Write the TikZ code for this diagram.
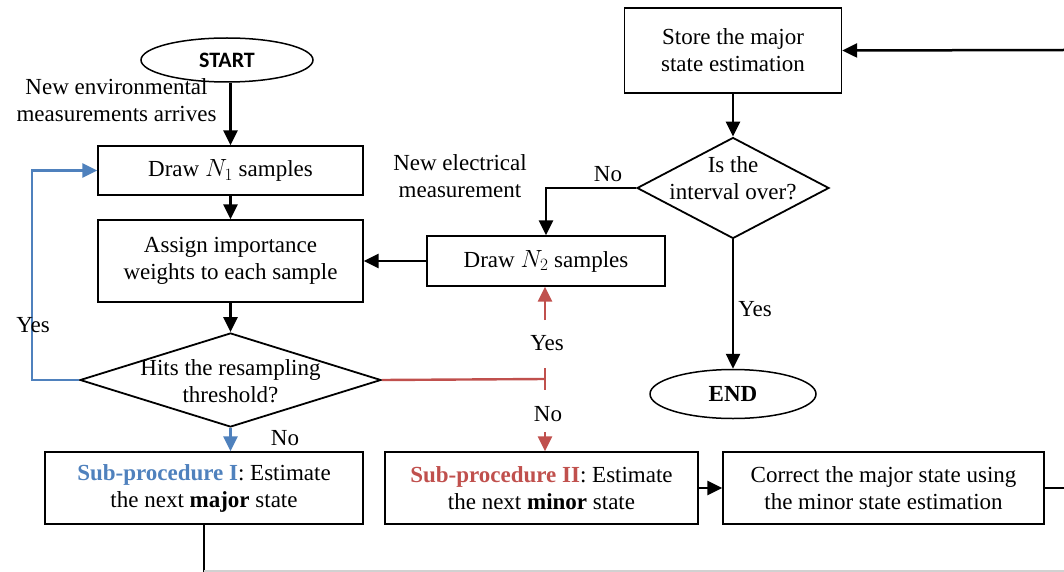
\documentclass[tikz,border=0pt]{standalone}
\usepackage{fontspec}
\setmainfont{Liberation Serif}
\newfontfamily\startfont{Carlito}
\usetikzlibrary{shapes.geometric,arrows.meta}
\definecolor{procblue}{RGB}{79,129,189}
\definecolor{procred}{RGB}{192,80,77}
\tikzset{
  txt/.style={font=\fontsize{23}{27}\selectfont, inner sep=0pt, align=center},
  box/.style={txt, draw=black, line width=1.3pt, rectangle},
  term/.style={draw=black, line width=1.5pt, ellipse, inner sep=0pt},
  decision/.style={draw=black, line width=1.8pt, diamond, inner sep=0pt},
  tip/.style={-{Triangle[length=15pt,width=14pt]}},
  conn/.style={line width=2.5pt, black},
  arr/.style={conn, tip},
  bluearr/.style={line width=2.4pt, procblue, tip},
  redline/.style={line width=2.4pt, procred},
  redarr/.style={redline, tip},
}
\begin{document}
\begin{tikzpicture}[x=1pt,y=-1pt]
\useasboundingbox (0,0) rectangle (1064,572);

% terminals
\node[term, minimum width=172pt, minimum height=44pt] (start) at (227,60) {};
\node[font=\startfont\bfseries\fontsize{22}{26}\selectfont] at (start) {START};
\node[term, minimum width=166pt, minimum height=49pt] (end) at (733,394)
  {\fontsize{23}{27}\selectfont\bfseries END};

% process boxes
\node[box, minimum width=265pt, minimum height=49pt] (n1) at (230.5,170.5) {Draw $N_1$ samples};
\node[box, minimum width=265pt, minimum height=82pt] (assign) at (230.5,261) {Assign importance\\weights to each sample};
\node[box, minimum width=238pt, minimum height=50pt] (n2) at (546,261) {Draw $N_2$ samples};
\node[box, minimum width=217pt, minimum height=85pt] (store) at (733,50.5) {Store the major\\state estimation};
\node[box, minimum width=318pt, minimum height=72pt] (sub1) at (204,488)
  {\textcolor{procblue}{\textbf{Sub-procedure I}}: Estimate\\the next \textbf{major} state};
\node[box, minimum width=313pt, minimum height=72pt] (sub2) at (541.5,488)
  {\textcolor{procred}{\textbf{Sub-procedure II}}: Estimate\\the next \textbf{minor} state};
\node[box, minimum width=321pt, minimum height=72pt] (correct) at (883.5,488)
  {Correct the major state using\\the minor state estimation};

% decisions
\node[decision, minimum width=301pt, minimum height=94pt] (d1) at (230.5,380) {};
\node[txt] at (230.5,381) {Hits the resampling\\threshold?};
\node[decision, minimum width=192pt, minimum height=101pt] (d2) at (733,188) {};
\node[txt] at (733,178) {Is the\\interval over?};

% free text
\node[txt] at (116.5,100) {New environmental\\measurements arrives};
\node[txt] at (460,176) {New electrical\\measurement};

% connector end points
\coordinate (rin) at (1064,50);
\coordinate (rout) at (1064,488);
\coordinate (bottom) at (204,572);
\coordinate (redjoin) at (545,379);
\coordinate (redtop) at (545,368);
\coordinate (redbot) at (545,390);
\coordinate (yesfrom) at (545,320);
\coordinate (nofrom) at (545,432);

% main flow
\draw[arr] (n1.north |- start.south) -- (n1.north);
\draw[arr] (n1) -- (assign);
\draw[arr] (assign) -- (d1.north);
\draw[arr] (n2.west) -- (assign.east);
\draw[arr] (rin) -- (store.east);
\draw[arr] (store.south) -- (d2.north);
\draw[arr] (d2.south) -- (end.north);
\draw[arr] (d2.west) -| (n2.north);
\draw[arr] (sub2.east) -- (correct.west);
\draw[conn] (correct.east) -- (rout);
\draw[conn] (sub1.south) -- (bottom);
\draw[black!18, line width=1.5pt] (bottom |- 0,571) -- (1064,571);

% blue branch
\draw[bluearr] (d1.west) -- ++(-47,0) |- (n1.west);
\draw[bluearr] (d1.south) -- (d1.south |- sub1.north);

% red branch
\draw[redline] (d1.east) -- (redjoin);
\draw[redline] (redtop) -- (redbot);
\draw[redarr] (yesfrom) -- (yesfrom |- n2.south);
\draw[redarr] (nofrom) -- (nofrom |- sub2.north);

% branch labels
\node[txt] at (33,325) {Yes};
\node[txt] at (285,438) {No};
\node[txt] at (547,343) {Yes};
\node[txt] at (548,414) {No};
\node[txt] at (608,174) {No};
\node[txt] at (755,309) {Yes};
\end{tikzpicture}
\end{document}
